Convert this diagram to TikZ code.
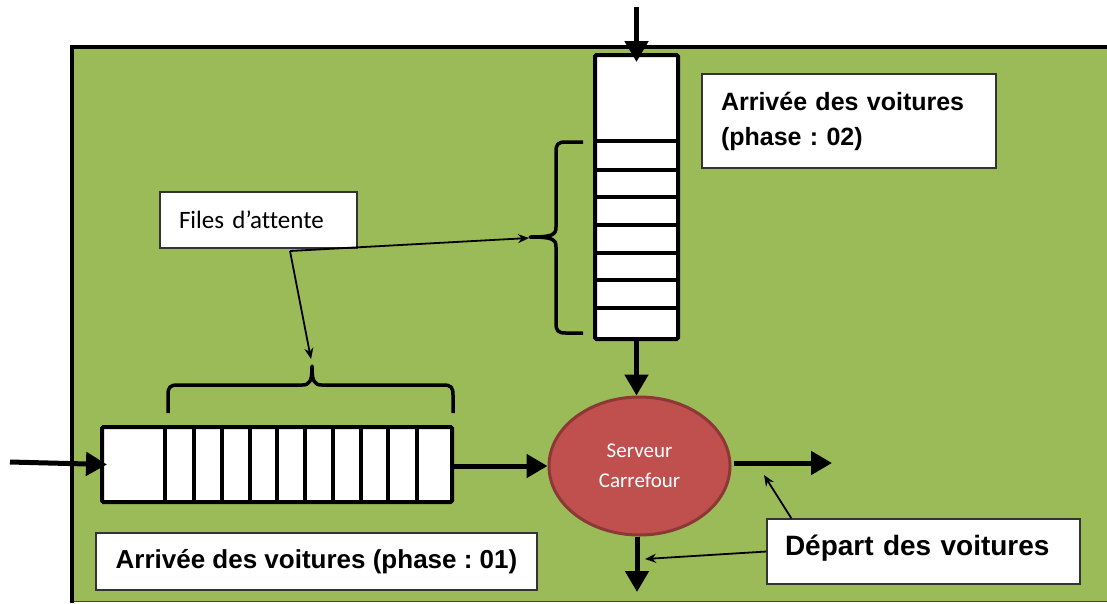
\documentclass[tikz,border=0pt]{standalone}
\usepackage{fontspec}
\setmainfont{Liberation Sans}
\newfontfamily\calibri[Ligatures=NoCommon]{Carlito}
\usetikzlibrary{arrows.meta,shapes.geometric}

\definecolor{fieldgreen}{HTML}{9BBB59}
\definecolor{srvred}{HTML}{C0504D}
\definecolor{srvedge}{HTML}{8C3836}

\begin{document}
\frenchspacing
\begin{tikzpicture}[x=1pt,y=-1pt,
  queue/.style={draw=black, line width=4pt, fill=white, rounded corners=1.5pt, inner sep=0pt},
  notebox/.style={draw=black!80, line width=1.2pt, fill=white, inner sep=0pt},
  bigarrow/.style={line width=5pt, -{Triangle[length=21pt,width=23pt]}},
  thinarrow/.style={line width=1.8pt, -{Stealth[length=11pt,width=9pt]}},
  divider/.style={line width=4pt},
  brace/.style={line width=3.5pt, line join=round},
]
\useasboundingbox (0,0) rectangle (1107,603);

% background field with its framing lines
\fill[fieldgreen] (72,47) rectangle (1107,601);
\draw[line width=0.8pt, draw=black!60!fieldgreen] (72,601) -- (1107,601);
\draw[line width=4pt] (72,603) -- (72,47) -- (1107,47);

% vertical queue (phase 02)
\node[queue, minimum width=83pt, minimum height=284pt] (q2) at (636.5,197) {};
\foreach \y in {141,170,197,225,253,280,308}
  \draw[divider] (q2.west |- 0,\y) -- (q2.east |- 0,\y);

% horizontal queue (phase 01)
\node[queue, minimum width=350pt, minimum height=75pt] (q1) at (277,464.5) {};
\foreach \x in {165,194,222,250,277,305,333,361,388,417}
  \draw[divider] (\x,0 |- q1.north) -- (\x,0 |- q1.south);

% braces marking the waiting lines
\draw[brace] (583,142) -- (566,142) .. controls (558,142) and (556,144) .. (556,152)
  -- (556,227) .. controls (556,235) and (552,237) .. (530,237)
  .. controls (552,237) and (556,239) .. (556,247)
  -- (556,323) .. controls (556,331) and (558,333) .. (566,333) -- (583,333);
\coordinate (vtip) at (529,238);
\draw[brace] (168,413) -- (168,395) .. controls (168,387) and (170,385) .. (178,385)
  -- (302,385) .. controls (310,385) and (312,381) .. (312,366)
  .. controls (312,381) and (314,385) .. (322,385)
  -- (443,385) .. controls (451,385) and (453,387) .. (453,395) -- (453,413);
\coordinate (htip) at (311,359);

% crossroads server
\node[ellipse, draw=srvedge, fill=srvred, line width=3pt, minimum width=181pt,
  minimum height=138pt, inner sep=0pt, text=white, align=center,
  font=\calibri\fontsize{21}{30}\selectfont] (srv) at (639.5,466) {Serveur\\Carrefour};

% flows of cars
\coordinate (in2) at (636.5,7);
\coordinate (in1) at (10,462);
\coordinate (out) at (832,463);
\coordinate (down) at (637,592);
\draw[bigarrow] (in2) -- ([yshift=-9pt]q2.north);
\draw[bigarrow] (q2.south) -- (q2.south |- srv.north);
\draw[bigarrow] (in1) -- ([xshift=7pt]q1.west);
\draw[bigarrow] (q1.east |- srv.west) -- (srv.west);
\draw[bigarrow] ([xshift=2pt]srv.east |- out) -- (out);
\draw[bigarrow] (srv.south -| down) -- (down);

% captions
\node[notebox, font=\calibri\fontsize{25}{30}\selectfont, minimum height=56pt,
  text width=159pt, inner xsep=19pt, align=left] (files) at (258.5,220) {Files d’attente};
\coordinate (fork) at (290,251);
\draw[thinarrow] (fork) -- (vtip);
\draw[thinarrow] (fork) -- (htip);

\node[notebox, font=\bfseries\fontsize{25}{35}\selectfont, minimum height=94pt,
  text width=256pt, inner xsep=19pt, align=left] (arr2) at (849,121)
  {Arrivée des voitures\\(phase : 02)};

\node[notebox, font=\bfseries\fontsize{26}{30}\selectfont, minimum width=441pt,
  minimum height=57pt] (arr1) at (316.5,561.5) {Arrivée des voitures (phase : 01)};

\node[notebox, font=\bfseries\fontsize{28}{34}\selectfont, minimum height=65pt,
  text width=277pt, inner xsep=18pt, align=left, text height=20pt, text depth=13pt]
  (dep) at (923.5,551.5) {Départ des voitures};
\coordinate (p1) at (764,475);
\coordinate (p2) at (645,559);
\draw[thinarrow] ([xshift=25pt]dep.north west) -- (p1);
\draw[thinarrow] (dep.west) -- (p2);
\end{tikzpicture}
\end{document}
